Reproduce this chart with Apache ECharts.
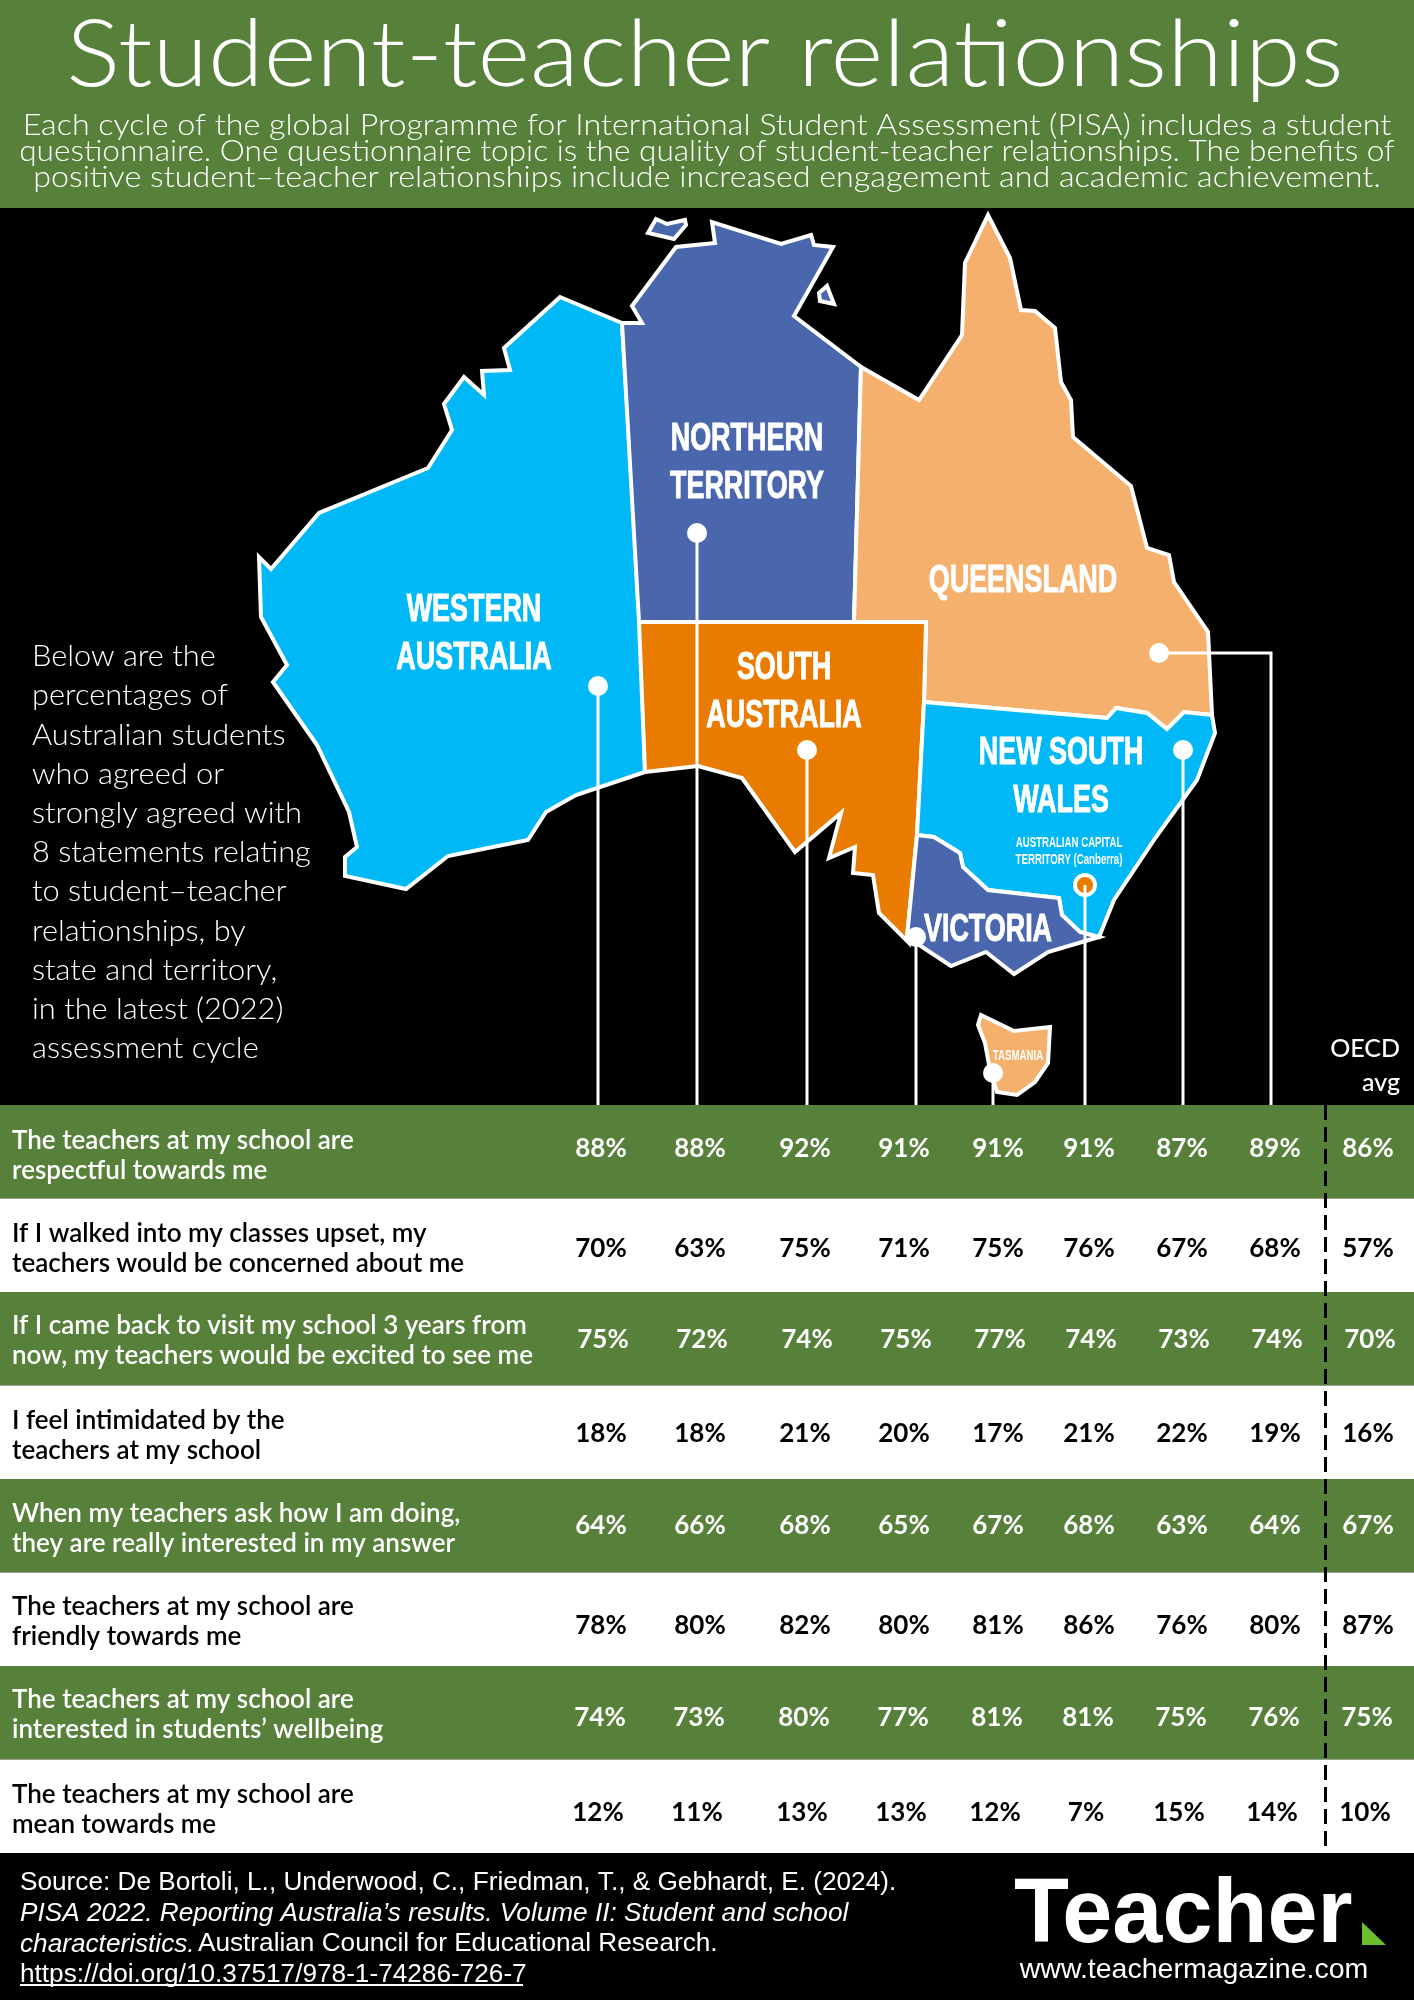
<!DOCTYPE html>
<html>
<head>
<meta charset="UTF-8">
<title>Student-teacher relationships</title>
<script src="https://cdn.jsdelivr.net/npm/echarts@6/dist/echarts.min.js"></script>
<style>html,body{margin:0;padding:0;background:#000}</style>
</head>
<body>
<div id="main" style="width:1414px;height:2000px"></div>
<script type="text/javascript">
// table data, one list per column, rows in the order of statements
var statements = [
  'The teachers at my school are\nrespectful towards me',
  'If I walked into my classes upset, my\nteachers would be concerned about me',
  'If I came back to visit my school 3 years from\nnow, my teachers would be excited to see me',
  'I feel intimidated by the\nteachers at my school',
  'When my teachers ask how I am doing,\nthey are really interested in my answer',
  'The teachers at my school are\nfriendly towards me',
  'The teachers at my school are\ninterested in students\u2019 wellbeing',
  'The teachers at my school are\nmean towards me'
];
var wa = [88, 70, 75, 18, 64, 78, 74, 12];
var nt = [88, 63, 72, 18, 66, 80, 73, 11];
var sa = [92, 75, 74, 21, 68, 82, 80, 13];
var vic = [91, 71, 75, 20, 65, 80, 77, 13];
var tas = [91, 75, 77, 17, 67, 81, 81, 12];
var act = [91, 76, 74, 21, 68, 86, 81, 7];
var nsw = [87, 67, 73, 22, 63, 76, 75, 15];
var qld = [89, 68, 74, 19, 64, 80, 76, 14];
var oecd = [86, 57, 70, 16, 67, 87, 75, 10];
var columns = [wa, nt, sa, vic, tas, act, nsw, qld, oecd];

// map outlines
var waShape = [[622,323],[560,297],[504,348],[510,370],[482,371],[484,395],[464,377],[444,404],[452,430],[428,468],[319,513],[271,569],[259,557],[261,617],[287,665],[273,682],[317,745],[349,812],[357,847],[345,857],[345,876],[406,889],[448,856],[528,840],[546,812],[576,795],[645,772],[641,622]];
var ntShape = [[622,323],[642,323],[632,306],[676,247],[715,243],[712,222],[781,244],[811,235],[814,245],[833,247],[794,316],[861,367],[854,622],[639,622]];
var ntIsland1 = [[656,219],[667,224],[685,220],[686,225],[674,239],[648,233]];
var ntIsland2 = [[827,286],[834,304],[820,301],[819,293]];
var qldShape = [[861,367],[919,400],[962,335],[965,263],[988,215],[1010,258],[1021,310],[1035,311],[1055,328],[1061,382],[1071,400],[1073,437],[1131,486],[1147,548],[1169,555],[1174,582],[1208,632],[1212,715],[1184,712],[1167,729],[1147,713],[1116,708],[1107,718],[924,702],[926,622],[854,622]];
var saShape = [[639,622],[926,622],[924,702],[917,835],[907,937],[908,942],[879,913],[873,875],[853,873],[855,847],[829,858],[841,813],[795,852],[742,778],[698,766],[645,772]];
var nswShape = [[924,702],[1107,718],[1116,708],[1147,713],[1167,729],[1184,712],[1212,715],[1215,733],[1197,780],[1156,837],[1114,900],[1099,937],[1080,932],[1062,915],[1059,898],[988,890],[963,867],[960,853],[934,837],[917,835]];
var vicShape = [[917,835],[934,837],[960,853],[963,867],[988,890],[1059,898],[1062,915],[1080,932],[1099,937],[1048,952],[1014,974],[986,952],[951,966],[907,937]];
var tasShape = [[981,1015],[1014,1031],[1050,1027],[1048,1063],[1035,1082],[1017,1095],[997,1092],[990,1070],[985,1043],[978,1025]];

function feature(name, rings) {
  return { type: 'Feature', properties: { name: name }, geometry: { type: 'MultiPolygon', coordinates: rings.map(function (r) { return [r]; }) } };
}
echarts.registerMap('aus', { type: 'FeatureCollection', features: [
  feature('WA', [waShape]), feature('NT', [ntShape, ntIsland1, ntIsland2]), feature('QLD', [qldShape]),
  feature('SA', [saShape]), feature('NSW', [nswShape]), feature('VIC', [vicShape]), feature('TAS', [tasShape])
] });

var GREEN = '#57803a', SKY = '#00b8f5', NAVY = '#4a66ac', ORANGE = '#e97c00', PEACH = '#f4b06c';
var BODY = 'Lato', ARIAL = '"Liberation Sans"';

// layout: x of each table column, per-row label nudges, map pins with their drop to the table
var columnX = [601, 700, 805, 904, 998, 1089, 1182, 1275, 1368];
var rowNudgeX = [0, 0, 2, 0, 0, 0, -1, -3];
var rowNudgeY = [-3, 3, 1, 1, 0, 6, 5, 6];
var statementNudgeY = [4, 3, 2, 3, 3, 2, 2, 3];
var tableTop = 1105;
var pins = [[598,686],[697,533],[807,750],[916,937],[993,1073],[1085,885],[1183,750],[1159,653]];

var cells = [];
columns.forEach(function (col, c) {
  col.forEach(function (v, r) {
    cells.push({ value: [columnX[c], r, v], label: { color: r % 2 ? '#000' : '#fff', offset: [rowNudgeX[r], rowNudgeY[r]] } });
  });
});

var rowTitles = statements.map(function (s, r) {
  return { name: s, value: [12, r], label: { color: r % 2 ? '#000' : '#fff', offset: [0, statementNudgeY[r]] } };
});

var leaders = pins.map(function (p, i) {
  if (i === pins.length - 1) return { coords: [p, [1271, p[1]], [1271, tableTop]] };
  return { coords: [p, [p[0], tableTop]] };
});

var bigLabels = [
  { at: [474, 634], text: 'WESTERN\nAUSTRALIA' },
  { at: [747, 463], text: 'NORTHERN\nTERRITORY' },
  { at: [1023, 581], text: 'QUEENSLAND' },
  { at: [784, 692], text: 'SOUTH\nAUSTRALIA' },
  { at: [1061, 777], text: 'NEW SOUTH\nWALES' },
  { at: [988, 930], text: 'VICTORIA' }
];
var smallLabels = [
  { at: [1069, 852], text: 'AUSTRALIAN CAPITAL\nTERRITORY (Canberra)' },
  { at: [1018, 1056], text: 'TASMANIA' }
];

// region names are drawn condensed, no narrow font is installed
function regionText(list, fontSize, lineHeight, thicken) {
  return {
    type: 'custom', coordinateSystem: 'geo', silent: true, z: 4,
    data: list.map(function (d) { return d.at; }),
    renderItem: function (params, api) {
      var pt = api.coord([api.value(0), api.value(1)]);
      return {
        type: 'text', x: pt[0], y: pt[1], scaleX: 0.69,
        style: { text: list[params.dataIndex].text, fill: '#fff', stroke: '#fff', lineWidth: thicken, fontFamily: ARIAL, fontWeight: 700, fontSize: fontSize, lineHeight: lineHeight, align: 'center', verticalAlign: 'middle' }
      };
    }
  };
}

function introLine(y, scaleX, text) {
  return { type: 'text', x: 707, y: y, scaleX: scaleX, silent: true, style: { text: text, fill: '#fff', fontFamily: BODY, fontWeight: 300, fontSize: 30, align: 'center', verticalAlign: 'middle' } };
}

var option = {
  animation: false,
  backgroundColor: '#000',
  geo: {
    map: 'aus', silent: true, roam: false,
    projection: { project: function (p) { return p; }, unproject: function (p) { return p; } },
    left: 259, top: 215, width: 956, height: 880,
    label: { show: false },
    itemStyle: { borderColor: '#fff', borderWidth: 4, areaColor: SKY },
    regions: [
      { name: 'WA', itemStyle: { areaColor: SKY } },
      { name: 'NT', itemStyle: { areaColor: NAVY } },
      { name: 'QLD', itemStyle: { areaColor: PEACH } },
      { name: 'SA', itemStyle: { areaColor: ORANGE } },
      { name: 'NSW', itemStyle: { areaColor: SKY } },
      { name: 'VIC', itemStyle: { areaColor: NAVY } },
      { name: 'TAS', itemStyle: { areaColor: PEACH } }
    ]
  },
  grid: { left: 0, top: tableTop, width: 1414, height: 748 },
  xAxis: { type: 'value', min: 0, max: 1414, show: false },
  yAxis: {
    type: 'category', inverse: true, data: statements,
    axisLine: { show: false }, axisTick: { show: false }, splitLine: { show: false },
    splitArea: { show: true, areaStyle: { color: [GREEN, '#fff'] } },
    axisLabel: { show: false }
  },
  series: [
    {
      type: 'lines', coordinateSystem: 'geo', polyline: true, silent: true, z: 3,
      lineStyle: { color: '#fff', width: 3, opacity: 1, curveness: 0 }, data: leaders
    },
    {
      type: 'scatter', coordinateSystem: 'geo', silent: true, symbolSize: 20, z: 2,
      itemStyle: { opacity: 1 },
      data: pins.map(function (p, i) {
        return { value: p, itemStyle: i === 5 ? { color: ORANGE, borderColor: '#fff', borderWidth: 4, opacity: 1 } : { color: '#fff', opacity: 1 } };
      })
    },
    regionText(bigLabels, 39, 48.5, 1),
    regionText(smallLabels, 14, 17, 0),
    {
      type: 'scatter', xAxisIndex: 0, yAxisIndex: 0, silent: true, symbolSize: 0, z: 4, data: rowTitles,
      itemStyle: { opacity: 1 },
      label: { show: true, position: 'inside', align: 'left', formatter: '{b}', fontFamily: BODY, fontWeight: 600, fontSize: 26, lineHeight: 30 }
    },
    {
      type: 'scatter', xAxisIndex: 0, yAxisIndex: 0, silent: true, symbolSize: 0, z: 4, data: cells,
      itemStyle: { opacity: 1 },
      label: {
        show: true, position: 'inside', fontFamily: BODY, fontWeight: 700, fontSize: 26,
        formatter: function (p) { return p.value[2] + '%'; }
      },
      markLine: {
        silent: true, symbol: 'none', label: { show: false },
        lineStyle: { color: '#000', width: 3, type: [15, 7] }, data: [{ xAxis: 1325 }]
      }
    }
  ],
  graphic: [
    { type: 'rect', z: -1, silent: true, shape: { x: 0, y: 0, width: 1414, height: 208 }, style: { fill: GREEN } },
    { type: 'text', x: 705, y: 56, scaleX: 1.085, silent: true, style: { text: 'Student-teacher relationships', fill: '#fff', fontFamily: BODY, fontWeight: 300, fontSize: 93, align: 'center', verticalAlign: 'middle' } },
    introLine(125, 1.074, 'Each cycle of the global Programme for International Student Assessment (PISA) includes a student'),
    introLine(151, 1.054, 'questionnaire. One questionnaire topic is the quality of student-teacher relationships. The benefits of'),
    introLine(177, 1.075, 'positive student\u2013teacher relationships include increased engagement and academic achievement.'),
    { type: 'text', x: 32, y: 853, scaleX: 1.08, silent: true, style: { text: 'Below are the\npercentages of\nAustralian students\nwho agreed or\nstrongly agreed with\n8 statements relating\nto student\u2013teacher\nrelationships, by\nstate and territory,\nin the latest (2022)\nassessment cycle', fill: '#fff', fontFamily: BODY, fontWeight: 300, fontSize: 28.5, lineHeight: 39.2, align: 'left', verticalAlign: 'middle' } },
    { type: 'text', x: 1400, y: 1066, silent: true, style: { text: 'OECD\navg', fill: '#fff', fontFamily: BODY, fontWeight: 500, fontSize: 25, lineHeight: 34, align: 'right', verticalAlign: 'middle' } },
    { type: 'text', x: 20, y: 1929, silent: true, style: {
      text: '{r|Source: De Bortoli, L., Underwood, C., Friedman, T., & Gebhardt, E. (2024).}\n{i|PISA 2022. Reporting Australia\u2019s results. Volume II: Student and school}\n{i|characteristics.} {r|Australian Council for Educational Research.}\n{r|https://doi.org/10.37517/978-1-74286-726-7}',
      fill: '#fff', verticalAlign: 'middle', align: 'left', lineHeight: 30.5,
      rich: {
        r: { fontFamily: ARIAL, fontSize: 26.2, lineHeight: 30.5, fill: '#fff' },
        i: { fontFamily: ARIAL, fontSize: 26.2, fontStyle: 'italic', lineHeight: 30.5, fill: '#fff' }
      }
    } },
    { type: 'line', silent: true, shape: { x1: 20, y1: 1985, x2: 523, y2: 1985 }, style: { stroke: '#fff', lineWidth: 2 } },
    { type: 'text', x: 1014, y: 1917, silent: true, style: { text: 'Teacher', fill: '#fff', fontFamily: ARIAL, fontWeight: 700, fontSize: 90, align: 'left', verticalAlign: 'middle' } },
    { type: 'polygon', silent: true, shape: { points: [[1362,1922],[1386,1945],[1362,1945]] }, style: { fill: '#6cbf2c' } },
    { type: 'text', x: 1194, y: 1970, silent: true, style: { text: 'www.teachermagazine.com', fill: '#fff', fontFamily: ARIAL, fontSize: 28.5, align: 'center', verticalAlign: 'middle' } }
  ]
};

var myChart = echarts.init(document.getElementById('main'), null, { renderer: 'canvas' });
myChart.setOption(option);
</script>
</body>
</html>
